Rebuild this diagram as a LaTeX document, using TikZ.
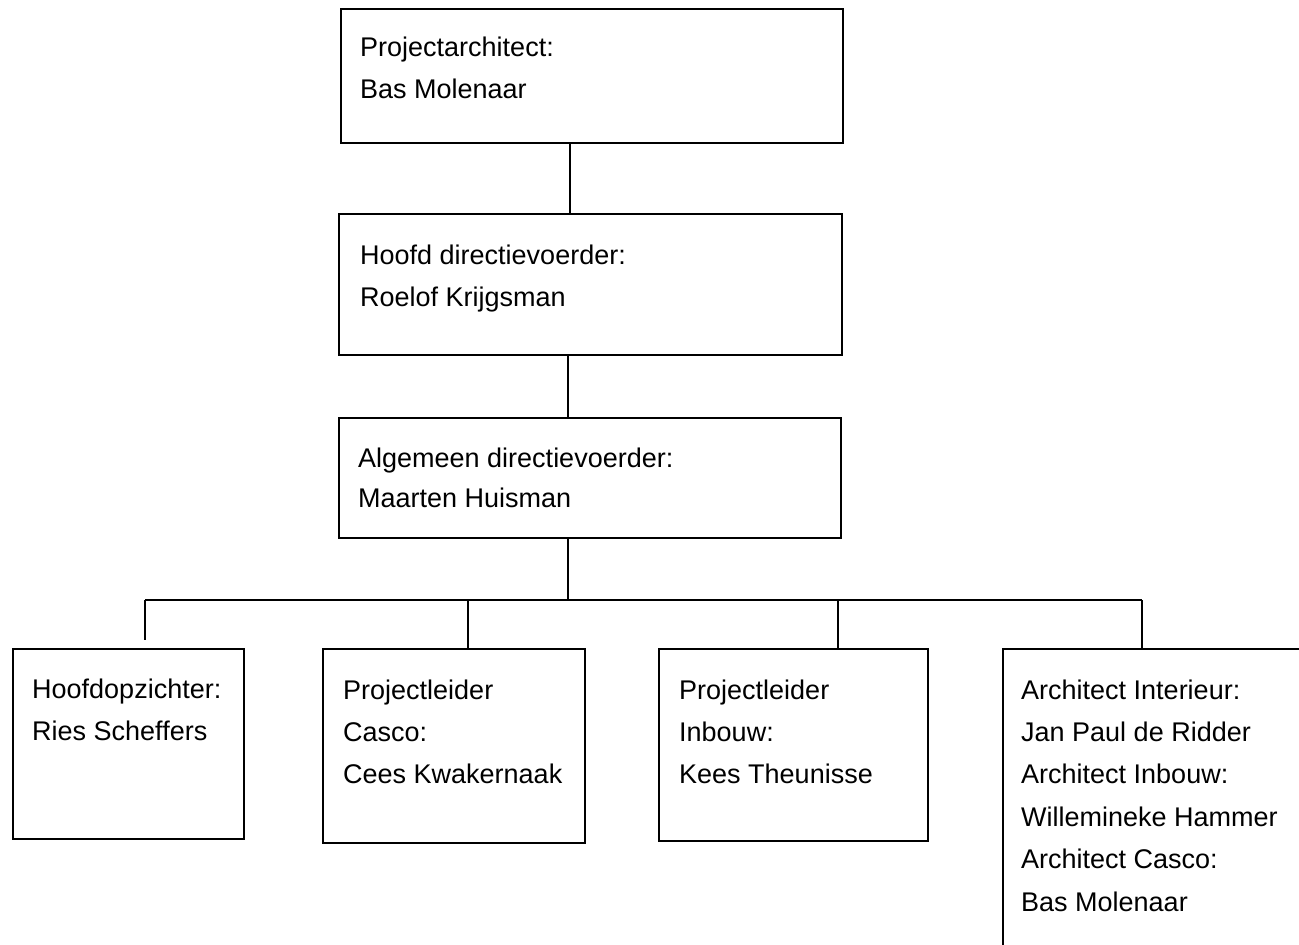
\documentclass[tikz,border=0pt]{standalone}
\usepackage{fontspec}
\setmainfont{Liberation Sans}
\usetikzlibrary{positioning}

\begin{document}
\begin{tikzpicture}[x=1pt,y=-1pt,
		box/.style={draw,line width=2pt,anchor=north west,inner sep=0pt},
		txt/.style={anchor=base west,align=left,inner sep=0pt,font=\fontsize{27}{42}\selectfont},
		conn/.style={line width=2pt}]
				\useasboundingbox (0,0) rectangle (1299,945);
				\clip (0,0) rectangle (1299,945);
					%Boxes
				\node[box,minimum width=502pt,minimum height=134pt] (arch) 	at (340,8) {};
				\node[box,minimum width=503pt,minimum height=141pt] (hoofd) 	at (338,213) {};
				\node[box,minimum width=502pt,minimum height=120pt] (alg) 	at (338,417) {};
				\node[box,minimum width=231pt,minimum height=190pt] (opz) 	at (12,648) {};
				\node[box,minimum width=262pt,minimum height=194pt] (casco) 	at (322,648) {};
				\node[box,minimum width=269pt,minimum height=192pt] (inbouw) 	at (658,648) {};
				\node[box,minimum width=330pt,minimum height=330pt] (interieur) at (1002,648) {};

					%Texts (placed at the baseline of the last line)
				\node[txt] (archtxt) 	at (360,98) {Projectarchitect:\\Bas Molenaar};
				\node[txt] (hoofdtxt) 	at (360,306) {Hoofd directievoerder:\\Roelof Krijgsman};
				\node[txt,font=\fontsize{27}{40}\selectfont] (algtxt) at (358,507) {Algemeen directievoerder:\\Maarten Huisman};
				\node[txt] (opztxt) 	at (32,740) {Hoofdopzichter:\\Ries Scheffers};
				\node[txt] (cascotxt) 	at (343,783) {Projectleider\\Casco:\\Cees Kwakernaak};
				\node[txt] (inbouwtxt) 	at (679,783) {Projectleider\\Inbouw:\\Kees Theunisse};
				\node[txt,font=\fontsize{27}{42.4}\selectfont] (interieurtxt) at (1021,911) {Architect Interieur:\\Jan Paul de Ridder\\Architect Inbouw:\\Willemineke Hammer\\Architect Casco:\\Bas Molenaar};

				\coordinate      (c1) 	at 	(570,142);
				\coordinate      (c2) 	at 	(568,354);
				\coordinate      (c3) 	at 	(568,537);
				\coordinate      (split) 	at 	(568,600);
				\coordinate      (hA) 	at 	(145,600);
				\coordinate      (hB) 	at 	(468,600);
				\coordinate      (hC) 	at 	(838,600);
				\coordinate      (hD) 	at 	(1142,600);
				\coordinate      (eA) 	at 	(145,640);

					%Lines
				\draw[conn] (c1) -- (c1 |- hoofd.north);
				\draw[conn] (c2) -- (c2 |- alg.north);
				\draw[conn] (c3) -- (split);
				\draw[conn] (hA) -- (hD);
				\draw[conn] (hA) -- (eA);
				\draw[conn] (hB) -- (hB |- casco.north);
				\draw[conn] (hC) -- (hC |- inbouw.north);
				\draw[conn] (hD) -- (hD |- interieur.north);
\end{tikzpicture}
\end{document}
